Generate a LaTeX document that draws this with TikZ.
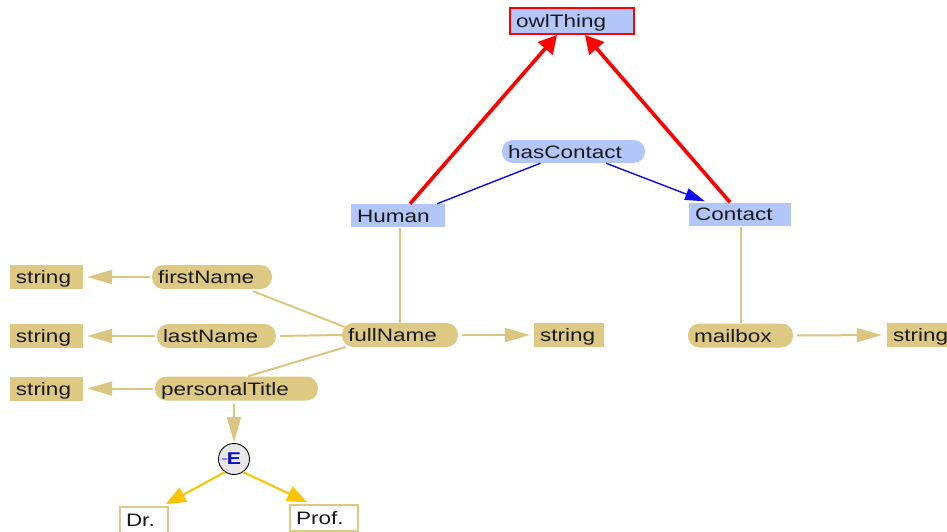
\documentclass[tikz,border=0pt]{standalone}
\usepackage{fontspec}
\newfontfamily\labfont{Liberation Sans}[FakeStretch=1.25]
\usetikzlibrary{arrows.meta}

\definecolor{tan}{RGB}{221,200,132}
\definecolor{tanline}{RGB}{218,198,128}
\definecolor{classblue}{RGB}{178,198,250}
\definecolor{relblue}{RGB}{10,10,240}
\definecolor{isared}{RGB}{255,0,0}
\definecolor{enumgold}{RGB}{252,196,0}
\definecolor{inkgray}{RGB}{25,25,25}

\tikzset{
  lab/.style={font=\labfont\fontsize{18}{21}\selectfont, text=inkgray,
              inner xsep=6pt, inner ysep=0pt, text height=15pt, text depth=2pt,
              align=left, anchor=center},
  cls/.style={lab, rectangle, fill=classblue, minimum height=23pt},
  topcls/.style={cls, draw=isared, line width=2pt, minimum height=26pt},
  objprop/.style={lab, rectangle, rounded corners=11pt, fill=classblue, minimum height=23pt},
  dprop/.style={lab, rectangle, rounded corners=11.5pt, fill=tan, minimum height=24pt},
  dtype/.style={lab, rectangle, fill=tan, minimum height=24pt},
  literal/.style={lab, rectangle, fill=white, draw=tan, line width=1.6pt, minimum height=26pt},
  isa/.style={draw=isared, line width=3.6pt, -{Triangle[length=18pt,width=19pt]}},
  rel/.style={draw=relblue, line width=1.4pt},
  relarrow/.style={rel, -{Triangle[length=20pt,width=12pt]}},
  tanlink/.style={draw=tanline, line width=2pt},
  tanarrow/.style={tanlink, -{Triangle[length=25pt,width=14pt]}},
  enumarrow/.style={draw=enumgold, line width=2pt, -{Triangle[length=20pt,width=16pt]}},
}

\begin{document}
\begin{tikzpicture}[x=1pt,y=-1pt]
\useasboundingbox (0,0) rectangle (947,531);

% classes and properties
\node[topcls, text width=112pt] (owl) at (572,21) {owlThing};
\node[objprop, text width=131pt] (has) at (573.5,151.5) {hasContact};
\node[cls, text width=82pt] (human) at (398,215.5) {Human};
\node[cls, text width=90pt] (contact) at (740,214) {Contact};

\node[dprop, text width=104pt] (full) at (400,335) {fullName};
\node[dtype, text width=58pt] (sfull) at (569,335) {string};

\node[dprop, text width=108pt] (first) at (212,277) {firstName};
\node[dtype, text width=61pt] (sfirst) at (46.5,277) {string};
\node[dprop, text width=107pt] (last) at (216.5,336) {lastName};
\node[dtype, text width=61pt] (slast) at (46.5,336) {string};
\node[dprop, text width=151pt] (title) at (236.5,388.5) {personalTitle};
\node[dtype, text width=61pt] (stitle) at (46.5,388.5) {string};

\node[dprop, text width=93pt] (mail) at (740.5,335.5) {mailbox};
\node[dtype, text width=61pt] (smail) at (923.5,335) {string};

% enumeration of title values
\node[circle, draw=black, line width=0.9pt, fill=black!9, minimum size=31pt,
      inner sep=0pt, font=\labfont\bfseries\fontsize{17}{17}\selectfont,
      text=relblue!80!black] (enum) at (234,459) {E};
\draw[draw=classblue!70!blue, line width=2pt] ([xshift=-12pt]enum.center) -- ([xshift=-7pt]enum.center);
\node[literal, text width=36pt] (dr) at (144,520) {Dr.};
\node[literal, text width=56pt] (prof) at (324,518) {Prof.};

% subclass links
\draw[isa] ([xshift=12pt]human.north) -- ([xshift=-15pt]owl.south);
\draw[isa] ([xshift=-10pt]contact.north) -- ([xshift=13pt]owl.south);

% object property domain / range
\draw[rel] ([xshift=-33pt]has.south) -- ([xshift=39pt]human.north);
\draw[relarrow] ([xshift=32.5pt]has.south) -- ([xshift=-35pt,yshift=1pt]contact.north);

% datatype properties
\draw[tanlink] ([xshift=2pt,yshift=-1pt]human.south) -- (full.north);
\draw[tanarrow, shorten <=4pt, shorten >=4pt] (full.east) -- (sfull.west);
\draw[tanlink] ([xshift=41pt,yshift=-2pt]first.south) -- ([xshift=3pt,yshift=8pt]full.west);
\draw[tanlink, shorten >=4pt] (full.west) -- (last.east);
\draw[tanlink] ([xshift=4pt,yshift=-12pt]full.west) -- ([xshift=11.5pt]title.north);
\draw[tanarrow, shorten <=2pt, shorten >=4pt] (first.west) -- (sfirst.east);
\draw[tanarrow, shorten <=2pt, shorten >=4pt] (last.west) -- (slast.east);
\draw[tanarrow, shorten <=2pt, shorten >=4pt] (title.west) -- (stitle.east);
\draw[tanarrow, shorten <=3pt, shorten >=1pt] ([xshift=-2.5pt]title.south) -- (enum.north);
\draw[tanlink] ([xshift=0.5pt,yshift=-1pt]contact.south) -- (mail.north);
\draw[tanarrow, shorten <=4pt, shorten >=5pt] (mail.east) -- (smail.west);

% enumeration members
\draw[enumarrow] (enum.-125) -- ([xshift=-3pt,yshift=2pt]dr.north east);
\draw[enumarrow] (enum.-55) -- ([xshift=18pt,yshift=2pt]prof.north west);
\end{tikzpicture}
\end{document}
